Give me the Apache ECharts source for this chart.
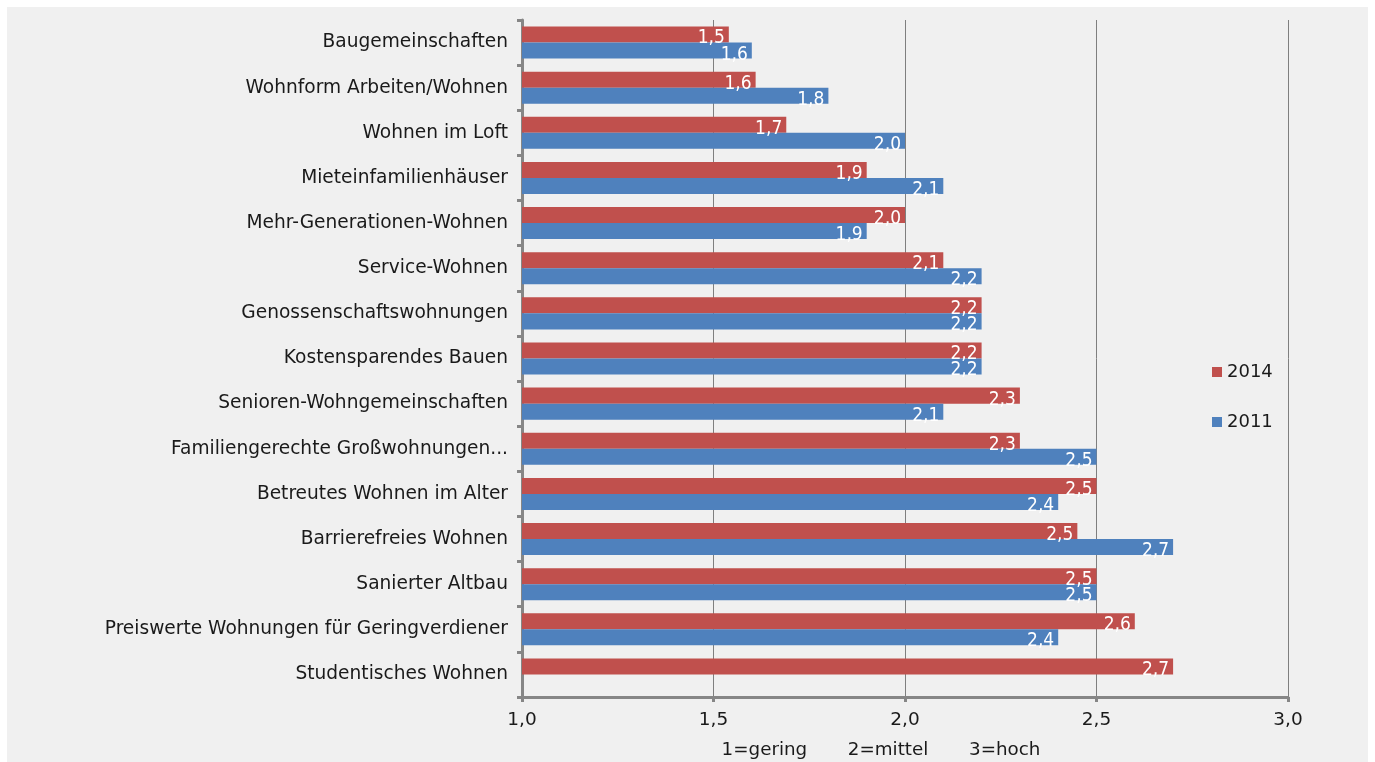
<!DOCTYPE html>
<html>
<head>
<meta charset="utf-8">
<script src="https://cdn.jsdelivr.net/npm/echarts@6/dist/echarts.min.js"></script>
<style>
  html, body { margin: 0; padding: 0; background: #ffffff; }
  #chart { position: absolute; left: 7px; top: 7px; width: 1361px; height: 755px; }
</style>
</head>
<body>
<div id="chart"></div>
<script>
// categories, top to bottom
const categories = [
  "Baugemeinschaften",
  "Wohnform Arbeiten/Wohnen",
  "Wohnen im Loft",
  "Mieteinfamilienhäuser",
  "Mehr-Generationen-Wohnen",
  "Service-Wohnen",
  "Genossenschaftswohnungen",
  "Kostensparendes Bauen",
  "Senioren-Wohngemeinschaften",
  "Familiengerechte Großwohnungen...",
  "Betreutes Wohnen im Alter",
  "Barrierefreies Wohnen",
  "Sanierter Altbau",
  "Preiswerte Wohnungen für Geringverdiener",
  "Studentisches Wohnen",
];

const values2014 = [1.54, 1.61, 1.69, 1.9, 2.0, 2.1, 2.2, 2.2, 2.3, 2.3, 2.5, 2.45, 2.5, 2.6, 2.7];
const values2011 = [1.6, 1.8, 2.0, 2.1, 1.9, 2.2, 2.2, 2.2, 2.1, 2.5, 2.4, 2.7, 2.5, 2.4, null];

const xTicks = [1.0, 1.5, 2.0, 2.5, 3.0];
const axisNote = "1=gering       2=mittel       3=hoch";

const red = "#C0504D";
const blue = "#4F81BD";
const font = "DejaVu Sans";

function fmt(v) {
  return (Math.round(v * 10) / 10).toFixed(1).replace(".", ",");
}

const barLabel = {
  show: true,
  position: "insideRight",
  distance: 4,
  offset: [0, 4],
  color: "#ffffff",
  fontFamily: "DejaVu Sans Condensed",
  fontSize: 19,
  formatter: (p) => fmt(p.value),
};

const chart = echarts.init(document.getElementById("chart"));

chart.setOption({
  backgroundColor: "#F0F0F0",
  animation: false,
  grid: { left: 515, right: 80, top: 13, bottom: 65, containLabel: false, outerBoundsMode: "none" },
  legend: {
    orient: "vertical",
    left: 1200,
    top: 351,
    itemWidth: 10,
    itemHeight: 10,
    itemGap: 32,
    icon: "rect",
    textStyle: { fontFamily: font, fontSize: 18, color: "#1a1a1a" },
    data: ["2014", "2011"],
  },
  xAxis: {
    type: "value",
    min: 1,
    max: 3,
    interval: 0.5,
    name: axisNote,
    nameLocation: "middle",
    nameGap: 44,
    nameTextStyle: {
      fontFamily: font,
      fontSize: 18.3,
      color: "#1a1a1a",
      padding: [0, 48, 0, 0],
    },
    axisLine: { show: true, lineStyle: { color: "#868686", width: 3 } },
    axisTick: { show: true, length: 5, lineStyle: { color: "#868686", width: 3 } },
    axisLabel: {
      fontFamily: font,
      fontSize: 18.5,
      color: "#1a1a1a",
      margin: 14,
      formatter: (v) => (xTicks.includes(v) ? fmt(v) : ""),
    },
    splitLine: { show: true, lineStyle: { color: "#7f7f7f", width: 1 } },
  },
  yAxis: {
    type: "category",
    inverse: true,
    data: categories,
    axisLine: { show: true, lineStyle: { color: "#868686", width: 3 } },
    axisTick: { show: true, length: 5, lineStyle: { color: "#868686", width: 3 } },
    axisLabel: {
      fontFamily: font,
      fontSize: 18.6,
      color: "#1a1a1a",
      margin: 14,
    },
    splitLine: { show: false },
  },
  series: [
    {
      name: "2014",
      type: "bar",
      data: values2014,
      itemStyle: { color: red },
      barGap: "0%",
      barCategoryGap: "29%",
      label: barLabel,
    },
    {
      name: "2011",
      type: "bar",
      data: values2011,
      itemStyle: { color: blue },
      barGap: "0%",
      barCategoryGap: "29%",
      label: barLabel,
    },
  ],
});
</script>
</body>
</html>
